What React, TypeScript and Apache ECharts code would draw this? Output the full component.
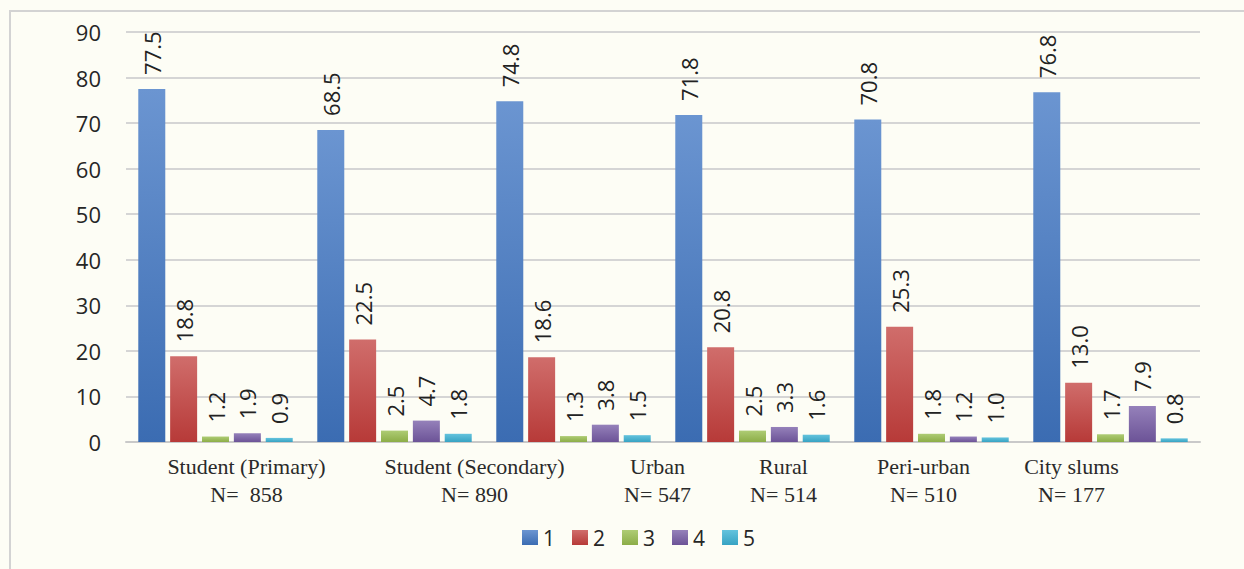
import React, { useEffect, useRef } from "react";
import * as echarts from "echarts";

const categories = ["Student (Primary)", "Student (Secondary)", "Urban", "Rural", "Peri-urban", "City slums"];
const sampleSizes = ["N=  858", "N= 890", "N= 547", "N= 514", "N= 510", "N= 177"];
const labelShift = [31, 80, 84, 31, -8, -39];
const seriesNames = ["1", "2", "3", "4", "5"];
const values1 = [77.5, 68.5, 74.8, 71.8, 70.8, 76.8];
const values2 = [18.8, 22.5, 18.6, 20.8, 25.3, 13.0];
const values3 = [1.2, 2.5, 1.3, 2.5, 1.8, 1.7];
const values4 = [1.9, 4.7, 3.8, 3.3, 1.2, 7.9];
const values5 = [0.9, 1.8, 1.5, 1.6, 1.0, 0.8];
const yMin = 0;
const yMax = 90;
const yStep = 10;

const allValues = [values1, values2, values3, values4, values5];
const gradients = [
  ["#6b95d1", "#3b6cb2"],
  ["#d06d6b", "#b73a38"],
  ["#aecc74", "#8cad47"],
  ["#9581ba", "#6c5397"],
  ["#64c3dd", "#37a3c3"],
];

const sansFont = "'Open Sans', 'Noto Sans', sans-serif";
const serifFont = "'Liberation Serif', 'DejaVu Serif', serif";

export default function App() {
  const ref = useRef<HTMLDivElement>(null);

  useEffect(() => {
    document.body.style.margin = "0";
    document.body.style.background = "#fdfdf5";
    if (!ref.current) return;
    const chart = echarts.init(ref.current, null, { renderer: "svg" });

    const rich: Record<string, any> = {};
    labelShift.forEach((s, i) => {
      rich["c" + i] = {
        fontFamily: serifFont,
        fontSize: 22,
        color: "#2a2a2a",
        lineHeight: 28,
        padding: s >= 0 ? [0, 0, 0, 2 * s] : [0, -2 * s, 0, 0],
      };
    });

    const series = seriesNames.map((name, k) => ({
      name,
      type: "bar",
      data: allValues[k],
      barWidth: 27,
      barGap: "18%",
      itemStyle: {
        color: new echarts.graphic.LinearGradient(0, 0, 0, 1, [
          { offset: 0, color: gradients[k][0] },
          { offset: 1, color: gradients[k][1] },
        ]),
      },
      label: {
        show: true,
        position: "top",
        rotate: 90,
        align: "left",
        verticalAlign: "middle",
        distance: 14,
        fontFamily: sansFont,
        fontSize: 22,
        color: "#222222",
        formatter: (p: any) => Number(p.value).toFixed(1),
      },
    }));

    chart.setOption({
      animation: false,
      backgroundColor: "#fdfdf5",
      grid: { left: 126, right: 44, top: 32, bottom: 127, containLabel: false },
      legend: {
        data: seriesNames,
        left: 522,
        top: 527,
        itemWidth: 16,
        itemHeight: 15,
        itemGap: 17,
        padding: 0,
        icon: "rect",
        textStyle: { fontFamily: sansFont, fontSize: 21, color: "#262626" },
      },
      xAxis: {
        type: "category",
        data: categories,
        axisTick: { show: false },
        axisLine: { lineStyle: { color: "#c9c9c9", width: 2 } },
        axisLabel: {
          margin: 10,
          interval: 0,
          formatter: (v: string, i: number) => `{c${i}|${v}}\n{c${i}|${sampleSizes[i]}}`,
          rich,
        },
      },
      yAxis: {
        type: "value",
        min: yMin,
        max: yMax,
        interval: yStep,
        axisLine: { show: false },
        axisTick: { show: false },
        splitLine: { lineStyle: { color: "#d5d5d5", width: 2 } },
        axisLabel: { margin: 25, fontFamily: sansFont, fontSize: 22, color: "#262626" },
      },
      graphic: [
        {
          type: "rect",
          silent: true,
          z: -1,
          shape: { x: 10, y: 11, width: 1300, height: 700 },
          style: { fill: "none", stroke: "#d3d3d3", lineWidth: 2 },
        },
      ],
      series,
    });

    return () => chart.dispose();
  }, []);

  return <div ref={ref} style={{ width: 1244, height: 569 }} />;
}
